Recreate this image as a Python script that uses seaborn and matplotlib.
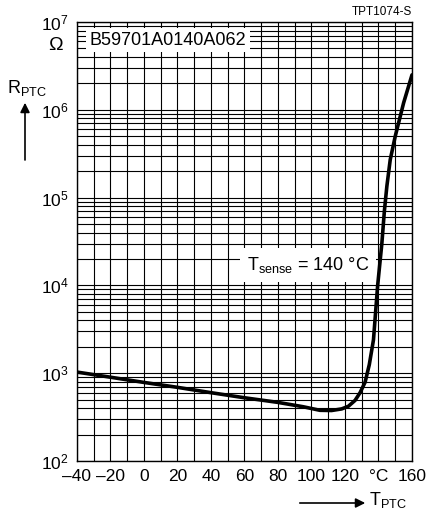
import numpy as np
import pandas as pd
import matplotlib
matplotlib.use("Agg")
import matplotlib.pyplot as plt
from matplotlib.ticker import MultipleLocator, LogLocator, FixedLocator
import seaborn as sns

# PTC resistance curve
temp_c = [-40, -20, 0, 20, 40, 60, 80, 95, 105, 112, 118, 122, 126, 129, 132,
          134.5, 137, 139.5, 142, 143.5, 145, 147, 150, 155, 160]
r_ohm = [1030, 900, 785, 690, 600, 525, 465, 415, 378, 376, 392, 420, 490, 600, 790,
         1250, 2400, 10000, 30000, 70000, 135000, 270000, 500000, 1.2e6, 2.5e6]

x_ticks = [-40, -20, 0, 20, 40, 60, 80, 100, 120, 140, 160]
x_tick_labels = ["\u201340", "\u201320", "0", "20", "40", "60", "80", "100", "120", "\u00b0C", "160"]

df = pd.DataFrame({"T": temp_c, "R": r_ohm})

sns.set_theme(style="white")
plt.rcParams["font.family"] = ["Liberation Sans", "DejaVu Sans"]
plt.rcParams["mathtext.fontset"] = "custom"
plt.rcParams["mathtext.rm"] = "Liberation Sans"
plt.rcParams["mathtext.it"] = "Liberation Sans"
plt.rcParams["text.color"] = "black"

W, H = 427, 517
fig = plt.figure(figsize=(W / 100, H / 100), dpi=100)
ax = fig.add_axes([77 / W, 1 - 461 / H, 335 / W, 439 / H])


def fx(px):
    return px / W


def fy(py):
    return 1 - py / H


sns.lineplot(data=df, x="T", y="R", ax=ax, color="black", lw=2.6,
             estimator=None, sort=False, zorder=5)

ax.set_yscale("log")
ax.set_xlim(-40, 160)
ax.set_ylim(1e2, 1e7)

ax.xaxis.set_major_locator(FixedLocator(x_ticks))
ax.set_xticklabels(x_tick_labels)
ax.xaxis.set_minor_locator(MultipleLocator(10))
ax.yaxis.set_major_locator(LogLocator(base=10, numticks=10))
ax.yaxis.set_minor_locator(LogLocator(base=10, subs=np.arange(2, 10), numticks=20))

ax.grid(which="both", axis="both", color="black", lw=0.8)
ax.set_axisbelow(True)
ax.tick_params(which="both", length=0, labelsize=12.5, colors="black")
ax.tick_params(axis="x", pad=6)
ax.tick_params(axis="y", pad=6)
ax.set_xlabel("")
ax.set_ylabel("")
for s in ax.spines.values():
    s.set_color("black")
    s.set_linewidth(1.0)

# labels inside the plot
ax.text(-32.5, 6.2e6, "B59701A0140A062", fontsize=13, va="center", ha="left",
        bbox=dict(facecolor="white", edgecolor="none", pad=2.5), zorder=6)
ax.text(134.5, 1.7e4, "T$_{\\mathregular{sense}}$ = 140 \u00b0C", fontsize=13,
        va="center", ha="right",
        bbox=dict(facecolor="white", edgecolor="none", pad=5), zorder=4)

# figure-level annotations
fig.text(fx(412), fy(12), "TPT1074-S", fontsize=8.5, ha="right", va="center")
fig.text(fx(55), fy(45), "\u03a9", fontsize=14, ha="center", va="center")
fig.text(fx(7), fy(88), "R$_{\\mathregular{PTC}}$", fontsize=13, ha="left", va="center")
fig.add_artist(plt.Line2D([fx(25), fx(25)], [fy(160), fy(112)], color="black", lw=1.2))
ax.annotate("", xy=(fx(25), fy(100)), xytext=(fx(25), fy(115)), xycoords="figure fraction",
            arrowprops=dict(arrowstyle="-|>", color="black", lw=1.2, mutation_scale=14))
ax.annotate("", xy=(fx(368), fy(503)), xytext=(fx(297), fy(503)), xycoords="figure fraction",
            arrowprops=dict(arrowstyle="-|>", color="black", lw=1.2, mutation_scale=14))
fig.text(fx(369), fy(500), "T$_{\\mathregular{PTC}}$", fontsize=13, ha="left", va="center")

fig.savefig("out.png", dpi=100)
